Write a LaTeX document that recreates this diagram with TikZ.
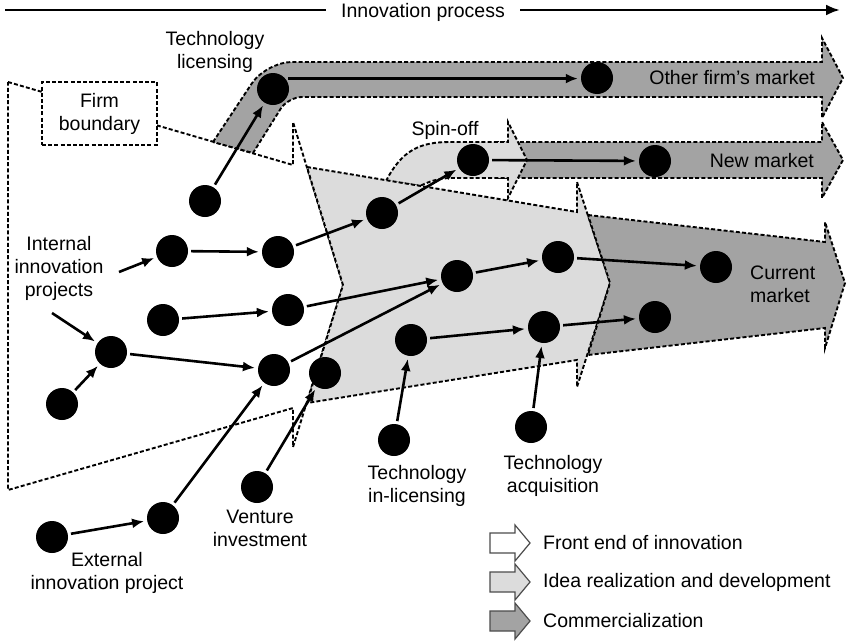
\documentclass[tikz,border=0pt]{standalone}
\usepackage{fontspec}
\setmainfont{Liberation Sans}
\usetikzlibrary{arrows.meta}
\definecolor{lightg}{RGB}{220,220,220}
\definecolor{darkg}{RGB}{163,163,163}
\begin{document}
\begin{tikzpicture}[x=1pt,y=-1pt,
  bnd/.style={draw=black,line width=1.9pt,dash pattern=on 4pt off 2.2pt},
  dot/.style={circle,fill=black,minimum size=32pt,inner sep=0pt},
  arr/.style={line width=2.6pt,-{Latex[length=12pt,width=10pt]},shorten >=3pt,shorten <=3pt},
  lbl/.style={font=\fontsize{19.5}{23}\selectfont,align=center,inner sep=0pt},
  leg/.style={draw=black!70,line width=1.2pt},
]
\useasboundingbox (0,0) rectangle (850,640);

% title arrow
\node[lbl] (title) at (423,12) {Innovation process};
\coordinate (tl0) at (5,10);
\coordinate (tr0) at (840,10);
\draw[line width=2.6pt] (tl0) -- ([xshift=-15pt]title.west |- tl0);
\draw[line width=2.6pt,-{Latex[length=14pt,width=11pt]}] ([xshift=15pt]title.east |- tr0) -- (tr0);

% front end (firm boundary)
\draw[bnd,fill=white] (8,82) -- (293,165) -- (293,122) -- (343,285) -- (293,447) -- (293,408) -- (8,490) -- cycle;

% other firm's market band
\draw[bnd,fill=darkg] (213,142) [rounded corners=26pt] -- (266,62) -- (500,62) -- (700,62) [sharp corners] -- (822,62) -- (822,38) -- (843,78) -- (822,118) -- (822,97) -- (700,97) [rounded corners=14pt] -- (500,97) -- (288,97) -- (270.5,125) [sharp corners] -- (253,153) -- cycle;

% new market band
\draw[bnd,fill=darkg] (495,142) -- (822,142) -- (822,122) -- (843,160) -- (822,198) -- (822,178) -- (495,178) -- cycle;

% spin-off
\draw[bnd,fill=lightg] (386,181) .. controls (402,150) and (420,142) .. (450,142) -- (508,142) -- (508,122) -- (527,160) -- (508,198) -- (508,178) -- (452,178) .. controls (438,178) and (428,182) .. (420,186) -- cycle;

% idea realization
\draw[bnd,fill=lightg] (307,167) -- (577,212) -- (577,182) -- (610,283) -- (577,387) -- (577,360) -- (307,403) -- (343,285) -- cycle;

% commercialization
\draw[bnd,fill=darkg] (588,215) -- (825,242) -- (825,222) -- (845,283) -- (825,348) -- (825,328) -- (588,355) -- (610,283) -- cycle;

% firm boundary box
\node[lbl,bnd,fill=white,minimum width=115pt,minimum height=63pt] (fb) at (99.5,113.5) {Firm\\boundary};

% labels
\node[lbl] (tlic) at (215,52) {Technology\\licensing};
\node[lbl] (spin) at (445,130) {Spin-off};
\node[lbl,anchor=east] (ofm) at (815,78) {Other firm's market};
\node[lbl,anchor=east] (nml) at (814,161) {New market};
\node[lbl,align=left,anchor=west] (cml) at (750,284) {Current\\market};
\node[lbl] (intl) at (59,268) {Internal\\innovation\\projects};
\node[lbl] (vil) at (260,528) {Venture\\investment};
\node[lbl] (exl) at (107,573) {External\\innovation project};
\node[lbl] (tinl) at (417,486) {Technology\\in-licensing};
\node[lbl] (tacl) at (553,476) {Technology\\acquisition};

% dots
\node[dot] (d1) at (205,201) {};
\node[dot] (tl) at (273,89) {};
\node[dot] (of) at (597,78) {};
\node[dot] (so) at (473,160) {};
\node[dot] (nm) at (655,161) {};
\node[dot] (i1) at (382,213) {};
\node[dot] (a1) at (172,251) {};
\node[dot] (a2) at (278,252) {};
\node[dot] (b1) at (163,320) {};
\node[dot] (b2) at (288,310) {};
\node[dot] (c1) at (111,352) {};
\node[dot] (c2) at (274,370) {};
\node[dot] (v2) at (325,373) {};
\node[dot] (e0) at (62,404) {};
\node[dot] (p1) at (411,340) {};
\node[dot] (q1) at (457,276) {};
\node[dot] (q2) at (558,257) {};
\node[dot] (p2) at (544,327) {};
\node[dot] (cm1) at (716,267) {};
\node[dot] (cm2) at (655,317) {};
\node[dot] (til) at (394,440) {};
\node[dot] (ta) at (531,427) {};
\node[dot] (vi) at (257,487) {};
\node[dot] (x1) at (52,537) {};
\node[dot] (x2) at (163,518) {};

% arrows
\coordinate (ia) at (119,272);
\coordinate (ib) at (52,313);
\draw[arr] (d1) -- (tl);
\draw[arr] (tl.40) -- (tl.40 -| of.west);
\draw[arr] (i1) -- (so);
\draw[arr] (so) -- (nm);
\draw[arr] (a1) -- (a2);
\draw[arr] (a2) -- (i1);
\draw[arr,shorten <=0pt] (ia) -- (a1);
\draw[arr,shorten <=0pt] (ib) -- (c1);
\draw[arr] (e0) -- (c1);
\draw[arr] (c1) -- (c2);
\draw[arr] (b1) -- (b2);
\draw[arr] (b2) -- (q1);
\draw[arr] (c2) -- (q1);
\draw[arr] (q1) -- (q2);
\draw[arr] (q2) -- (cm1);
\draw[arr] (p1) -- (p2);
\draw[arr] (p2) -- (cm2);
\draw[arr] (til) -- (p1);
\draw[arr] (ta) -- (p2);
\draw[arr] (vi) -- (v2);
\draw[arr] (x2) -- (c2);
\draw[arr] (x1) -- (x2);

% legend
\draw[leg,fill=white] (490,533) -- ++(25,0) -- ++(0,-8) -- ++(15,18) -- ++(-15,18) -- ++(0,-8) -- ++(-25,0) -- cycle;
\draw[leg,fill=lightg] (490,572) -- ++(25,0) -- ++(0,-8) -- ++(15,18) -- ++(-15,18) -- ++(0,-8) -- ++(-25,0) -- cycle;
\draw[leg,fill=darkg] (490,611) -- ++(25,0) -- ++(0,-8) -- ++(15,18) -- ++(-15,18) -- ++(0,-8) -- ++(-25,0) -- cycle;
\node[lbl,anchor=west] (lg1) at (543,543) {Front end of innovation};
\node[lbl,anchor=west] (lg2) at (543,582) {Idea realization and development};
\node[lbl,anchor=west] (lg3) at (543,621) {Commercialization};
\end{tikzpicture}
\end{document}
